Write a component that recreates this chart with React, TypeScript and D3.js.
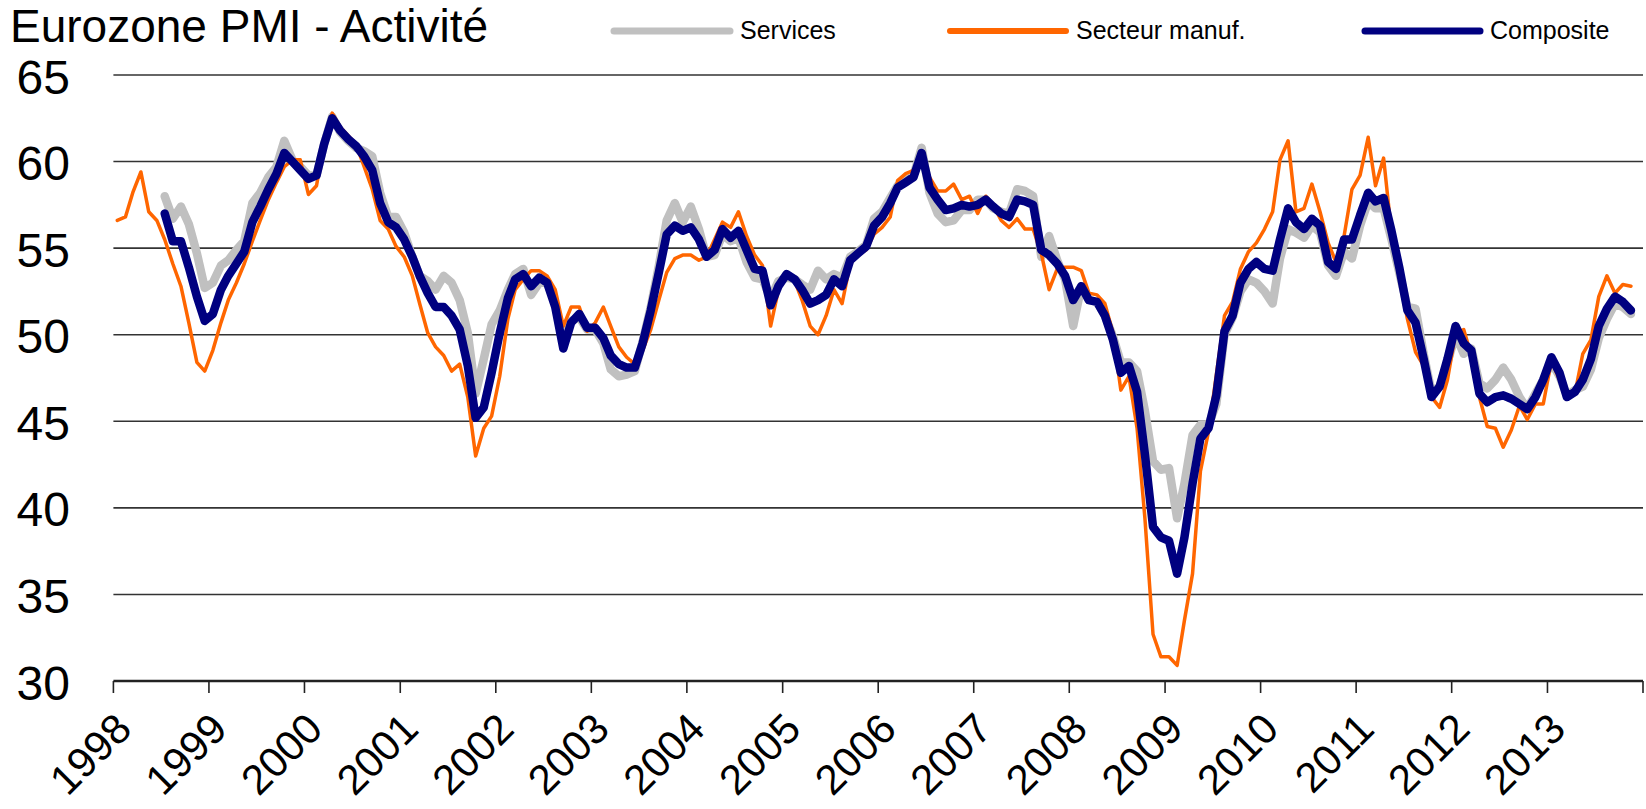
import * as d3 from 'd3';

// Eurozone PMI output indices, monthly from Jan 1998 (services & composite start Jul 1998)
const firstYear = 1998;

const manufacturing = [
  56.6, 56.8, 58.2, 59.4, 57.1, 56.6, 55.5, 54.1, 52.8, 50.7, 48.4, 47.9,
  49.1, 50.7, 52.0, 53.0, 54.1, 55.4, 56.6, 57.8, 58.8, 59.7, 60.1, 60.1,
  58.1, 58.6, 61.1, 62.8, 62.0, 61.5, 61.0, 59.7, 58.4, 56.6, 56.1, 55.1,
  54.5, 53.4, 51.8, 50.1, 49.3, 48.8, 47.9, 48.3, 46.4, 43.0, 44.6, 45.3,
  47.6, 50.9, 52.6, 53.2, 53.7, 53.7, 53.4, 52.6, 50.5, 51.6, 51.6, 50.2,
  50.7, 51.6, 50.5, 49.3, 48.7, 48.3, 49.1, 50.3, 52.0, 53.6, 54.4, 54.6,
  54.6, 54.3, 54.5, 55.5, 56.5, 56.2, 57.1, 55.7, 54.6, 54.0, 50.5, 52.6,
  53.4, 53.1, 52.0, 50.5, 50.0, 51.1, 52.6, 51.8, 54.1, 54.6, 54.9, 55.8,
  56.2, 56.8, 58.9, 59.3, 59.5, 60.2, 59.1, 58.3, 58.3, 58.7, 57.8, 58.0,
  57.0, 58.0, 57.5, 56.6, 56.2, 56.7, 56.1, 56.1, 54.7, 52.6, 53.8, 53.9,
  53.9, 53.7, 52.4, 52.3, 51.8, 50.1, 46.8, 47.6, 44.6, 39.4, 32.7, 31.4,
  31.4, 30.9, 33.5, 36.2, 42.1, 44.4, 47.7, 51.1, 51.9, 53.8, 54.8, 55.3,
  56.1, 57.1, 60.1, 61.2, 57.1, 57.3, 58.7, 57.1, 55.3, 54.2, 55.7, 58.4,
  59.2, 61.4, 58.6, 60.2, 55.9, 53.2, 50.9, 49.0, 48.2, 46.4, 45.8, 47.4,
  50.1, 50.3, 48.8, 46.4, 44.7, 44.6, 43.5, 44.5, 45.9, 45.1, 46.0, 46.0,
  48.5, 47.4, 46.4, 46.6, 48.9, 49.7, 52.2, 53.4, 52.4, 52.9, 52.8,
];

const services = [
  null, null, null, null, null, null, 58.0, 56.7, 57.4, 56.4, 54.7, 52.7,
  53.0, 54.0, 54.3, 54.9, 55.4, 57.6, 58.2, 59.1, 59.7, 61.2, 60.1, 59.7,
  59.2, 59.2, 61.0, 62.6, 61.7, 61.2, 60.8, 60.6, 60.3, 58.2, 56.8, 56.8,
  55.9, 54.5, 53.4, 53.1, 52.6, 53.4, 53.0, 52.0, 50.1, 46.6, 48.6, 50.6,
  51.4, 52.6, 53.5, 53.8, 52.3, 53.0, 53.0, 51.8, 49.5, 50.8, 51.0, 50.3,
  50.3, 49.5, 48.0, 47.6, 47.7, 47.9, 49.6, 51.6, 54.0, 56.6, 57.6, 56.5,
  57.4, 56.1, 54.5, 54.6, 55.8, 55.4, 55.6, 54.2, 53.3, 53.2, 52.1, 53.1,
  53.3, 53.2, 52.9, 52.6, 53.7, 53.2, 53.5, 53.3, 54.5, 54.8, 55.2, 56.7,
  57.1, 57.9, 58.6, 58.9, 59.2, 60.8, 58.2, 57.0, 56.5, 56.6, 57.2, 57.2,
  57.8, 57.8, 57.3, 57.1, 57.0, 58.4, 58.3, 58.0, 54.5, 55.7, 54.3, 53.2,
  50.5, 52.8, 52.0, 51.9, 51.1, 49.9, 48.4, 48.4, 47.9, 45.6, 42.7, 42.2,
  42.3, 39.4, 41.4, 44.2, 44.8, 44.8, 46.0, 50.0, 51.0, 52.5, 53.2, 53.0,
  52.5, 51.8, 54.4, 56.1, 55.9, 55.6, 56.3, 55.9, 54.0, 53.4, 54.8, 54.4,
  56.3, 57.7, 57.3, 57.3, 55.5, 53.5, 51.6, 51.5, 48.9, 46.7, 47.0, 48.4,
  50.0, 48.9, 49.2, 47.2, 46.9, 47.4, 48.1, 47.4, 46.4, 45.7, 46.6, 47.4,
  48.4, 47.6, 46.5, 46.8, 47.0, 48.0, 49.8, 50.9, 51.8, 51.6, 51.2,
];

const composite = [
  null, null, null, null, null, null, 57.0, 55.4, 55.4, 53.9, 52.2, 50.8,
  51.2, 52.6, 53.4, 54.1, 54.8, 56.5, 57.4, 58.4, 59.3, 60.5, 60.0, 59.5,
  59.0, 59.2, 61.0, 62.5, 61.8, 61.3, 60.9, 60.3, 59.5, 57.6, 56.5, 56.2,
  55.5, 54.5, 53.4, 52.4, 51.6, 51.6, 51.1, 50.3, 48.2, 45.2, 45.8, 47.8,
  50.1, 52.1, 53.2, 53.5, 52.8, 53.3, 53.0, 51.6, 49.2, 50.7, 51.2, 50.4,
  50.4, 49.8, 48.8, 48.3, 48.1, 48.1, 49.5, 51.4, 53.6, 55.8, 56.3, 56.0,
  56.2, 55.5, 54.5, 54.9, 56.1, 55.6, 56.0, 54.9, 53.8, 53.7, 51.7, 52.8,
  53.5, 53.2, 52.6, 51.8, 52.0, 52.3, 53.2, 52.8, 54.3, 54.7, 55.1, 56.3,
  56.8, 57.6, 58.5, 58.8, 59.1, 60.5, 58.5, 57.8, 57.2, 57.3, 57.5, 57.4,
  57.5, 57.8, 57.4, 57.0, 56.8, 57.8, 57.7, 57.5, 54.9, 54.6, 54.1, 53.4,
  52.0, 52.8, 52.0, 51.9, 51.1, 49.7, 47.8, 48.2, 46.7, 43.1, 38.9, 38.3,
  38.1, 36.2, 38.3, 41.4, 44.0, 44.6, 46.5, 50.2, 51.1, 53.0, 53.8, 54.2,
  53.8, 53.7, 55.5, 57.3, 56.5, 56.1, 56.7, 56.3, 54.2, 53.8, 55.5, 55.5,
  56.9, 58.2, 57.7, 57.9, 56.0, 53.8, 51.4, 50.7, 48.6, 46.4, 47.0, 48.6,
  50.5, 49.5, 49.1, 46.6, 46.1, 46.4, 46.5, 46.3, 46.0, 45.7, 46.4, 47.4,
  48.7, 47.8, 46.4, 46.7, 47.4, 48.6, 50.5, 51.5, 52.2, 51.9, 51.4,
];

const yTicks = [30, 35, 40, 45, 50, 55, 60, 65];
const yearLabels = [
  '1998', '1999', '2000', '2001', '2002', '2003', '2004', '2005',
  '2006', '2007', '2008', '2009', '2010', '2011', '2012', '2013',
];

const title = 'Eurozone PMI - Activité';
const seriesNames = ['Services', 'Secteur manuf.', 'Composite'];
const seriesColors = ['#c0c0c0', '#ff6600', '#000080'];

const width = 1646,
  height = 809,
  plotLeft = 113.4,
  plotRight = 1643,
  plotTop = 75,
  plotBottom = 681;

const font = "'Liberation Sans', Arial, sans-serif";

export default function App() {
  const x = d3
    .scaleUtc()
    .domain([new Date(Date.UTC(firstYear, 0, 1)), new Date(Date.UTC(firstYear + 16, 0, 1))])
    .range([plotLeft, plotRight]);

  const y = d3.scaleLinear().domain([30, 65]).range([plotBottom, plotTop]);

  const monthDate = (i: number) => new Date(Date.UTC(firstYear, i, 16));

  const line = d3
    .line<number | null>()
    .defined((d) => d != null)
    .x((_, i) => x(monthDate(i)))
    .y((d) => y(d as number));

  const yearTicks = d3.utcYear.range(
    new Date(Date.UTC(firstYear, 0, 1)),
    new Date(Date.UTC(firstYear + 16, 0, 2))
  );

  const legend = [
    { x1: 614, x2: 730, w: 7 },
    { x1: 950, x2: 1066, w: 6 },
    { x1: 1365, x2: 1480, w: 7 },
  ];

  return (
    <div style={{ position: 'absolute', left: 0, top: 0 }}>
      <svg width={width} height={height} fontFamily={font} style={{ display: 'block' }}>
        <rect width={width} height={height} fill="#fff" />
        <text x={10} y={42} fontSize={46} fill="#000">
          {title}
        </text>

        {legend.map((l, i) => (
          <g key={seriesNames[i]}>
            <line
              x1={l.x1}
              x2={l.x2}
              y1={31}
              y2={31}
              stroke={seriesColors[i]}
              strokeWidth={l.w}
              strokeLinecap="round"
            />
            <text x={l.x2 + 10} y={39} fontSize={25} fill="#000">
              {seriesNames[i]}
            </text>
          </g>
        ))}

        {yTicks.map((t) => (
          <g key={t}>
            <line
              x1={plotLeft}
              x2={plotRight}
              y1={y(t)}
              y2={y(t)}
              stroke={t === 30 ? '#222' : '#333'}
              strokeWidth={t === 30 ? 2.6 : 1.6}
            />
            <text
              x={70}
              y={y(t) + 2}
              fontSize={48}
              textAnchor="end"
              dominantBaseline="central"
              fill="#000"
            >
              {t}
            </text>
          </g>
        ))}

        {yearTicks.map((d) => (
          <line
            key={+d}
            x1={x(d)}
            x2={x(d)}
            y1={plotBottom}
            y2={plotBottom + 12}
            stroke="#222"
            strokeWidth={1.6}
          />
        ))}

        {yearLabels.map((lab, i) => {
          const tx = x(yearTicks[i]) + 10;
          const ty = plotBottom + 40;
          return (
            <text
              key={lab}
              transform={`translate(${tx},${ty}) rotate(-45)`}
              fontSize={42}
              textAnchor="end"
              dominantBaseline="central"
              fill="#000"
            >
              {lab}
            </text>
          );
        })}

        <path
          d={line(services) ?? ''}
          fill="none"
          stroke={seriesColors[0]}
          strokeWidth={8.5}
          strokeLinejoin="round"
          strokeLinecap="round"
        />
        <path
          d={line(manufacturing) ?? ''}
          fill="none"
          stroke={seriesColors[1]}
          strokeWidth={3.5}
          strokeLinejoin="round"
          strokeLinecap="round"
        />
        <path
          d={line(composite) ?? ''}
          fill="none"
          stroke={seriesColors[2]}
          strokeWidth={8.5}
          strokeLinejoin="round"
          strokeLinecap="round"
        />
      </svg>
    </div>
  );
}
